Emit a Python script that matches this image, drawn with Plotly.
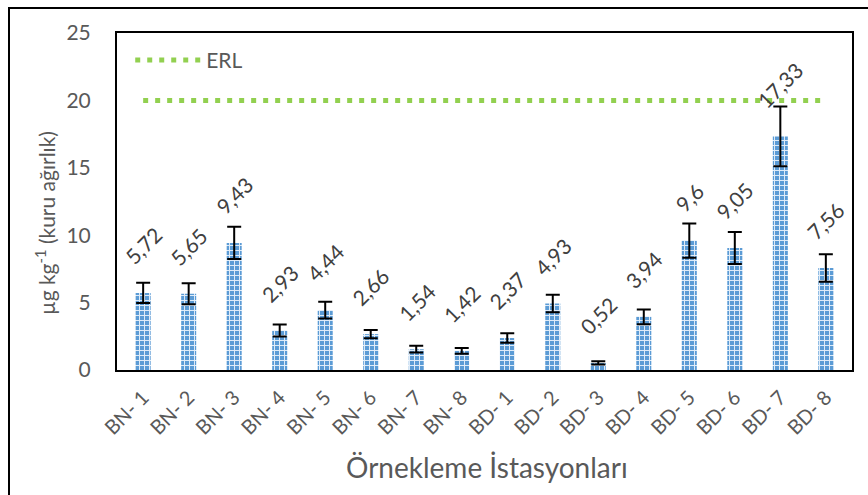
import plotly.graph_objects as go

categories = ["BN- 1", "BN- 2", "BN- 3", "BN- 4", "BN- 5", "BN- 6", "BN- 7", "BN- 8",
              "BD- 1", "BD- 2", "BD- 3", "BD- 4", "BD- 5", "BD- 6", "BD- 7", "BD- 8"]
values = [5.72, 5.65, 9.43, 2.93, 4.44, 2.66, 1.54, 1.42,
          2.37, 4.93, 0.52, 3.94, 9.6, 9.05, 17.33, 7.56]
errors = [0.75, 0.78, 1.2, 0.45, 0.62, 0.3, 0.25, 0.22,
          0.35, 0.65, 0.12, 0.55, 1.27, 1.18, 2.22, 1.02]
labels = ["5,72", "5,65", "9,43", "2,93", "4,44", "2,66", "1,54", "1,42",
          "2,37", "4,93", "0,52", "3,94", "9,6", "9,05", "17,33", "7,56"]
erl_value = 20
erl_name = "ERL"
y_ticks = [0, 5, 10, 15, 20, 25]

FONT = "Lato, 'Open Sans', sans-serif"
GREY = "#595959"

fig = go.Figure()
fig.add_trace(go.Bar(
    x=categories, y=values, showlegend=False,
    marker=dict(color="#5b9bd5", line=dict(width=0),
                pattern=dict(shape="+", fgcolor="#e2edf9", bgcolor="#5b9bd5",
                             size=5, solidity=0.35, fillmode="replace")),
    error_y=dict(type="data", array=errors, visible=True, color="black",
                 thickness=2, width=7),
))
fig.add_trace(go.Scatter(
    x=categories, y=[erl_value] * len(categories), mode="lines", name=erl_name,
    line=dict(color="#92d050", width=5, dash="5px,7px"),
))

for c, v, t in zip(categories, values, labels):
    fig.add_annotation(x=c, y=v, text=t, showarrow=False, textangle=-45,
                       xanchor="center", yanchor="bottom", yshift=21,
                       font=dict(family=FONT, size=21, color="#404040"))

W, H = 868, 495
L, R, T, B = 117, 16, 33, 125
pw, ph = W - L - R, H - T - B

def px2x(p):
    return (p - L) / pw

def py2y(p):
    return (H - B - p) / ph

fig.add_annotation(xref="paper", yref="paper", x=px2x(45), y=py2y(223),
                   text="µg kg<sup>-1</sup> (kuru ağırlık)", textangle=-90,
                   showarrow=False, xanchor="center", yanchor="middle",
                   font=dict(family=FONT, size=21, color=GREY))
fig.add_annotation(xref="paper", yref="paper", x=px2x(487), y=py2y(467),
                   text="Örnekleme İstasyonları",
                   showarrow=False, xanchor="center", yanchor="middle",
                   font=dict(family=FONT, size=28, color=GREY))

# outer chart border
fig.add_shape(type="rect", xref="paper", yref="paper",
              x0=px2x(9), y0=py2y(510), x1=px2x(880), y1=py2y(8),
              line=dict(color="black", width=2), layer="below")

fig.update_layout(
    width=W, height=H,
    margin=dict(l=L, r=R, t=T, b=B),
    paper_bgcolor="white", plot_bgcolor="white",
    bargap=0.67,
    font=dict(family=FONT, color=GREY),
    legend=dict(x=0.018, y=0.98, xanchor="left", yanchor="top", itemwidth=66,
                bgcolor="rgba(0,0,0,0)", font=dict(size=21, color=GREY)),
    xaxis=dict(tickangle=-45, tickfont=dict(size=20, color=GREY),
               showline=True, linecolor="black", linewidth=2, mirror=True,
               showgrid=False, ticks="", ticklabelstandoff=6),
    yaxis=dict(range=[0, 25], tickvals=y_ticks, tickfont=dict(size=21, color=GREY),
               showline=True, linecolor="black", linewidth=2, mirror=True,
               showgrid=False, zeroline=False, ticks="", ticklabelstandoff=20),
)

fig.write_html("out.html", config={"displayModeBar": False},
               post_script="document.body.style.margin='0';")
